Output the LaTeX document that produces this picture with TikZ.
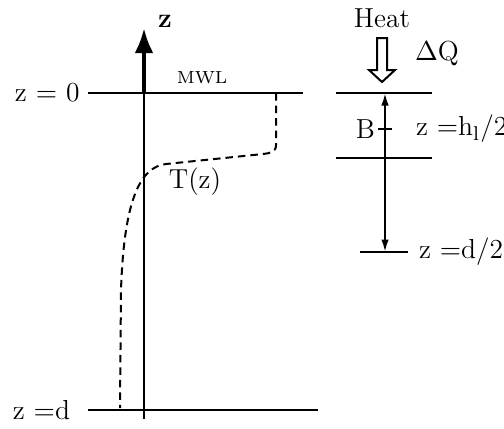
\documentclass[tikz,border=0pt]{standalone}
\usepackage{tikz}
\usetikzlibrary{arrows.meta,positioning}
\tikzset{
  lbl/.style={inner sep=1pt, font=\fontsize{11}{13}\selectfont},
  smalllbl/.style={inner sep=1pt, font=\fontsize{7}{8}\selectfont},
  level/.style={thick},
  axisline/.style={thick},
  zarrow/.style={-{Latex[length=10pt,width=7.5pt]}, line width=1.6pt},
  profile/.style={thick, dash pattern=on 3pt off 2pt},
  gap/.style={{Latex[length=5pt,width=3pt]}-{Latex[length=5pt,width=3pt]}, thick},
  hollow/.style={thick, fill=white, line join=miter}
}

\begin{document}
\begin{tikzpicture}[x=0.4pt, y=-0.4pt]
\useasboundingbox (0,0) rectangle (504,428);
% water column
\coordinate (bot) at (144,419);
\coordinate (surf) at (144,93);
\coordinate (tip) at (144,28);
\coordinate (mwlL) at (88,93);
\coordinate (mwlR) at (303,93);
\coordinate (bedL) at (88,410);
\coordinate (bedR) at (318,410);

\draw[axisline] (bot) -- (surf);
\draw[zarrow] (surf) -- (tip);
\draw[level] (mwlL) -- (mwlR);
\draw[level] (bedL) -- (bedR);

\node[lbl, anchor=west] (zlab) at (155,21) {\textbf{z}};
\node[lbl, left=2.2pt of mwlL] (z0) {z $=$ 0};
\node[lbl, left=6pt of bedL] (zd) {z $=$d};
\node[smalllbl] (mwl) at (202,78) {MWL};
\node[lbl] (Tz) at (195,182) {T(z)};

% temperature profile
\draw[profile] (276,93) -- (276,145) .. controls (276,152) and (271,153) .. (263,154)
  -- (166,164) .. controls (140,167) and (124,200) .. (121,290) -- (120,408);

% layer sketch
\coordinate (hlTopL) at (336,93);
\coordinate (hlTopR) at (432,93);
\coordinate (hlBotL) at (336,158);
\coordinate (hlBotR) at (432,158);
\coordinate (halfL) at (360,252);
\coordinate (halfR) at (408,252);
\coordinate (gapTop) at (385,93);
\coordinate (gapBot) at (385,252);
\coordinate (tickL) at (378,129);
\coordinate (tickR) at (392,129);

\draw[level] (hlTopL) -- (hlTopR);
\draw[level] (hlBotL) -- (hlBotR);
\draw[level] (halfL) -- (halfR);
\draw[gap] (gapBot) -- (gapTop);
\draw[level] (tickL) -- (tickR);

\node[lbl] (heat) at (382,18) {Heat};
\draw[hollow] (377,38) -- (387,38) -- (387,70) -- (395,70) -- (382,82)
  -- (369,70) -- (377,70) -- cycle;
\node[lbl] (dq) at (437,53) {$\Delta$Q};
\node[lbl, left=0pt of tickL] (blab) {B};
\node[lbl, anchor=west] (zh) at (413,129) {z $=$h$_{\mathrm{l}}$/2};
\node[lbl, anchor=west] (zhalf) at (416,252) {z $=$d/2};
\end{tikzpicture}
\end{document}
